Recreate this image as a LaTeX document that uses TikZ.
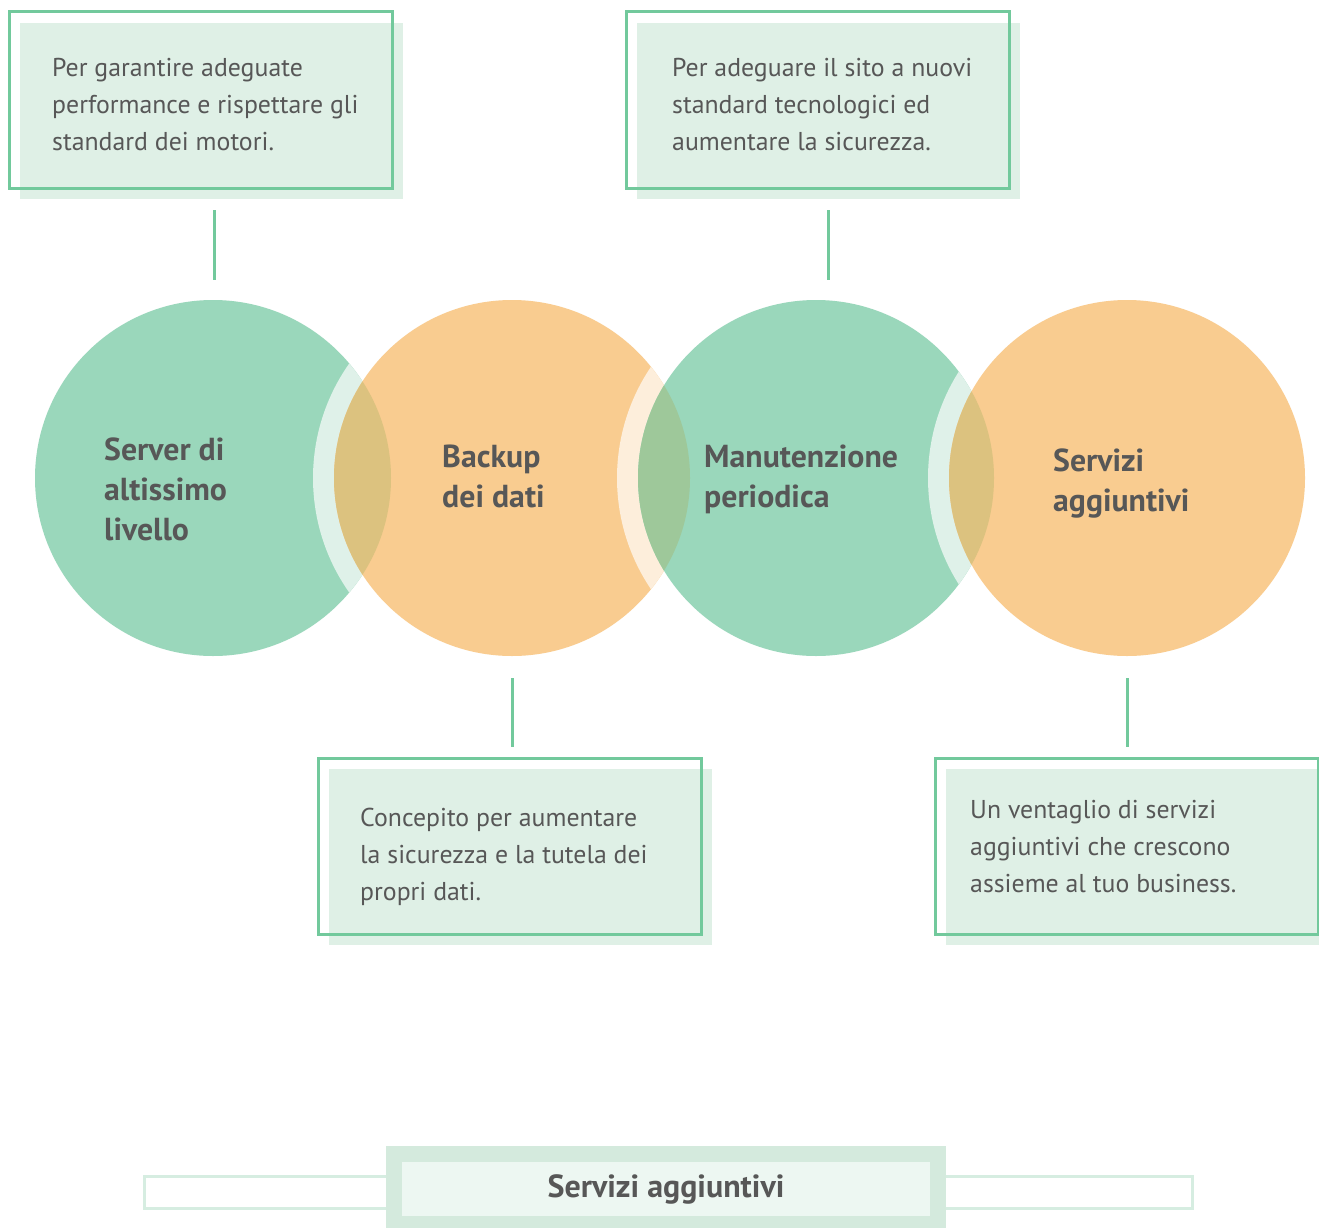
\documentclass[tikz,border=0pt]{standalone}
\usepackage{fontspec}
\setmainfont{PT Sans}
\definecolor{cgreen}{HTML}{9AD7BB}
\definecolor{corange}{HTML}{F9CC90}
\definecolor{haloG}{HTML}{DFF1E9}
\definecolor{haloO}{HTML}{FDEEDB}
\definecolor{lensA}{HTML}{DCC27F}
\definecolor{lensB}{HTML}{9EC89A}
\definecolor{cline}{HTML}{72C99C}
\definecolor{cboxfill}{HTML}{DFF0E6}
\definecolor{ctext}{HTML}{575757}
\definecolor{cbarline}{HTML}{D6EDE1}
\definecolor{cbarmid}{HTML}{D4EADD}
\definecolor{cbarin}{HTML}{EDF7F2}
\begin{document}
\begin{tikzpicture}[x=1pt,y=-1pt,
  circ/.style={circle, minimum size=356pt, inner sep=0pt, draw=none},
  fillbox/.style={rectangle, fill=cboxfill, minimum width=383pt, minimum height=176pt, inner sep=0pt, draw=none},
  outbox/.style={rectangle, draw=cline, line width=3pt, minimum width=383pt, minimum height=176pt, inner sep=0pt},
  conn/.style={draw=cline, line width=3pt},
  body/.style={font=\fontsize{25.8}{37}\selectfont, text=ctext, align=left, inner sep=0pt, anchor=north west},
  lbl/.style={font=\bfseries\fontsize{31.8}{40}\selectfont, text=ctext, align=left, inner sep=0pt, anchor=north west}]
\useasboundingbox (0,0) rectangle (1319,1228);
\fill[white] (0,0) rectangle (1319,1228);

% circles
\node[circ, fill=cgreen] (c1) at (213,478) {};
\begin{scope}
  \clip (c1.center) circle (178pt);
  \fill[haloG] (512,478) circle (199pt);
\end{scope}
\node[circ, fill=corange] (c2) at (512,478) {};
\begin{scope}
  \clip (c1.center) circle (178pt);
  \fill[lensA] (c2.center) circle (178pt);
\end{scope}
\begin{scope}
  \clip (c2.center) circle (178pt);
  \fill[haloO] (816,478) circle (199pt);
\end{scope}
\node[circ, fill=cgreen] (c3) at (816,478) {};
\begin{scope}
  \clip (c2.center) circle (178pt);
  \fill[lensB] (c3.center) circle (178pt);
\end{scope}
\begin{scope}
  \clip (c3.center) circle (178pt);
  \fill[haloG] (1127,478) circle (199pt);
\end{scope}
\node[circ, fill=corange] (c4) at (1127,478) {};
\begin{scope}
  \clip (c3.center) circle (178pt);
  \fill[lensA] (c4.center) circle (178pt);
\end{scope}

% circle labels
\node[lbl] (l1) at (104,460-28) {\strut Server di\\altissimo\\livello};
\node[lbl] (l2) at (442,467-28) {\strut Backup\\dei dati};
\node[lbl] (l3) at (704,467-28) {\strut Manutenzione\\periodica};
\node[lbl] (l4) at (1053,471-28) {\strut Servizi\\aggiuntivi};

% boxes
\node[fillbox] (f1) at (211.5,111) {};
\node[outbox] (o1) at (200.5,100) {};
\node[fillbox] (f2) at (828.5,111) {};
\node[outbox] (o2) at (817.5,100) {};
\node[fillbox] (f3) at (520.5,857) {};
\node[outbox] (o3) at (509.5,846) {};
\node[fillbox] (f4) at (1137.5,857) {};
\node[outbox] (o4) at (1126.5,846) {};

% box texts
\node[body] (t1) at (52,76-25.9) {\strut Per garantire adeguate\\performance e rispettare gli\\standard dei motori.};
\node[body] (t2) at (672,76-25.9) {\strut Per adeguare il sito a nuovi\\standard tecnologici ed\\aumentare la sicurezza.};
\node[body] (t3) at (360,826-25.9) {\strut Concepito per aumentare\\la sicurezza e la tutela dei\\propri dati.};
\node[body] (t4) at (970,818-25.9) {\strut Un ventaglio di servizi\\aggiuntivi che crescono\\assieme al tuo business.};

% connectors
\draw[conn, shorten <=20pt, shorten >=11pt] ([xshift=1pt]c1.north) -- ([xshift=1pt]c1.north |- f1.south);
\draw[conn, shorten <=20pt, shorten >=11pt] ([xshift=12pt]c3.north) -- ([xshift=12pt]c3.north |- f2.south);
\draw[conn, shorten <=22pt, shorten >=10pt] (c2.south) -- (c2.south |- o3.north);
\draw[conn, shorten <=22pt, shorten >=10pt] (c4.south) -- (c4.south |- o4.north);

% bottom bar
\node[rectangle, draw=cbarline, fill=white, line width=3pt, minimum width=1048pt, minimum height=32pt, inner sep=0pt] (bar) at (668,1192) {};
\node[rectangle, fill=cbarmid, minimum width=560pt, minimum height=82pt, inner sep=0pt] (barmid) at (666,1187) {};
\node[rectangle, fill=cbarin, minimum width=528pt, minimum height=54pt, inner sep=0pt, font=\bfseries\fontsize{32}{38}\selectfont, text=ctext] (barin) at (666,1189) {Servizi aggiuntivi};
\end{tikzpicture}
\end{document}
